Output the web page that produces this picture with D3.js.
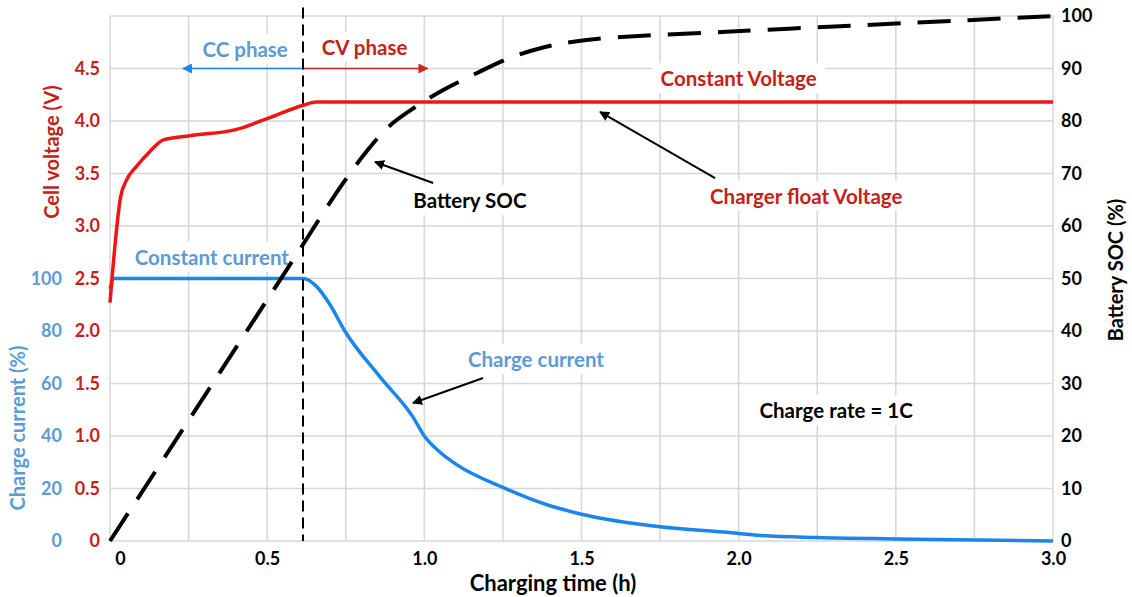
<!DOCTYPE html>
<html>
<head>
<meta charset="utf-8">
<script src="https://cdn.jsdelivr.net/npm/d3@7"></script>
<style>
  body { margin: 0; background: #fff; }
  svg { display: block; font-family: Lato, "Open Sans", sans-serif; font-weight: 700; }
</style>
</head>
<body>
<div id="chart"></div>
<script>
// values
var voltTime = [0, 0.034, 0.053, 0.085, 0.127, 0.17, 0.254, 0.403, 0.498, 0.615, 0.657, 3.0];
var voltage  = [2.27, 3.28, 3.44, 3.57, 3.71, 3.82, 3.86, 3.92, 4.02, 4.15, 4.18, 4.18];

var currTime = [0, 0.012, 0.3, 0.614, 0.657, 0.70, 0.747, 0.859, 0.964, 1.0, 1.05, 1.104, 1.25, 1.39, 1.5, 1.75, 1.97, 2.07, 2.25, 2.5, 3.0];
var current  = [96, 100, 100, 100, 97, 90, 80, 62.5, 47.2, 40, 33.8, 29.0, 20.4, 13.8, 10.2, 5.4, 3.2, 2.1, 1.3, 0.8, 0];

var socTime = [0, 0.61, 0.673, 0.742, 0.816, 0.89, 0.975, 1.06, 1.166, 1.272, 1.378, 1.474, 1.58, 1.96, 2.41, 2.73, 3.0];
var soc     = [0, 56.1, 62.0, 68.2, 74.2, 79.1, 82.8, 85.9, 89.1, 92.0, 94.0, 95.1, 95.8, 97, 98.3, 99.2, 100];

var timeTicks = [0, 0.5, 1.0, 1.5, 2.0, 2.5, 3.0];
var voltTicks = [0, 0.5, 1.0, 1.5, 2.0, 2.5, 3.0, 3.5, 4.0, 4.5];
var currTicks = [0, 20, 40, 60, 80, 100];
var socTicks  = [0, 10, 20, 30, 40, 50, 60, 70, 80, 90, 100];
var cvStart = 0.614;

var W = 1132, H = 597;
var RED = '#f01515', DARKRED = '#c42119', BLUE = '#1a86ec', LIGHTBLUE = '#5b9bd5';

var x  = d3.scaleLinear().domain([0, 3]).range([110, 1053]);
var yV = d3.scaleLinear().domain([0, 5]).range([541, 16]);
var yI = d3.scaleLinear().domain([0, 200]).range([541, 16]);
var yS = d3.scaleLinear().domain([0, 100]).range([541, 16]);

var svg = d3.select('#chart').append('svg').attr('width', W).attr('height', H);

var defs = svg.append('defs');
function marker(id, col){
	defs.append('marker').attr('id', id)
		.attr('viewBox', '0 0 10 10').attr('refX', 9).attr('refY', 5)
		.attr('markerWidth', 10).attr('markerHeight', 10)
		.attr('markerUnits', 'userSpaceOnUse').attr('orient', 'auto')
		.append('path').attr('d', 'M0,0 L10,5 L0,10 Z').attr('fill', col);
}
marker('ahBlack', '#000'); marker('ahBlue', BLUE); marker('ahRed', '#c8281e');

// grid
var grid = svg.append('g').attr('stroke', '#d6d6d6').attr('stroke-width', 1.5);
grid.selectAll('line.v').data(d3.range(0, 3.01, 0.25)).enter().append('line')
	.attr('x1', function(d){return x(d)}).attr('x2', function(d){return x(d)})
	.attr('y1', yV(5)).attr('y2', yV(0));
grid.selectAll('line.h').data(d3.range(0, 5.01, 0.5)).enter().append('line')
	.attr('y1', function(d){return yV(d)}).attr('y2', function(d){return yV(d)})
	.attr('x1', x(0)).attr('x2', x(3));

// axes (labels only, the grid draws the frame)
var axX = svg.append('g').attr('transform', 'translate(0,' + yV(0) + ')')
	.call(d3.axisBottom(x).tickValues(timeTicks).tickSize(0).tickPadding(11)
		.tickFormat(function(d){return d === 0 ? '0' : d3.format('.1f')(d)}));
axX.selectAll('text').filter(function(d){return d === 0}).attr('dx', 10);

var axV = svg.append('g').attr('transform', 'translate(100,0)')
	.call(d3.axisLeft(yV).tickValues(voltTicks).tickSize(0).tickPadding(0)
		.tickFormat(function(d){return d === 0 ? '0' : d3.format('.1f')(d)}));
axV.selectAll('text').attr('fill', DARKRED);

var axI = svg.append('g').attr('transform', 'translate(62,0)')
	.call(d3.axisLeft(yI).tickValues(currTicks).tickSize(0).tickPadding(0));
axI.selectAll('text').attr('fill', LIGHTBLUE);

var axS = svg.append('g').attr('transform', 'translate(1061,0)')
	.call(d3.axisRight(yS).tickValues(socTicks).tickSize(0).tickPadding(0));

[axX, axV, axI, axS].forEach(function(a){
	a.select('.domain').remove();
	a.selectAll('text').attr('font-size', 18).attr('font-family', 'Lato, "Open Sans", sans-serif').attr('font-weight', 700);
});
axX.selectAll('text').attr('fill', '#000');
axS.selectAll('text').attr('fill', '#000');

// axis titles
svg.append('text').attr('x', 553).attr('y', 583).attr('dy', '0.35em')
	.attr('text-anchor', 'middle').attr('font-size', 22).text('Charging time (h)');
svg.append('text').attr('transform', 'translate(52,152) rotate(-90)').attr('dy', '0.35em')
	.attr('text-anchor', 'middle').attr('font-size', 20).attr('fill', DARKRED).text('Cell voltage (V)');
svg.append('text').attr('transform', 'translate(18,428) rotate(-90)').attr('dy', '0.35em')
	.attr('text-anchor', 'middle').attr('font-size', 20).attr('fill', LIGHTBLUE).text('Charge current (%)');
svg.append('text').attr('transform', 'translate(1116,270) rotate(-90)').attr('dy', '0.35em')
	.attr('text-anchor', 'middle').attr('font-size', 20).attr('fill', '#000').text('Battery SOC (%)');

// annotations with white boxes behind them
var notes = [
	{t: 0.43,  v: 4.68, text: 'CC phase',              col: LIGHTBLUE},
	{t: 0.81,  v: 4.70, text: 'CV phase',              col: DARKRED},
	{t: 2.0,   v: 4.40, text: 'Constant Voltage',      col: DARKRED},
	{t: 2.215, v: 3.28, text: 'Charger float Voltage', col: DARKRED},
	{t: 1.145, v: 3.24, text: 'Battery SOC',           col: '#000'},
	{t: 0.324, v: 2.70, text: 'Constant current',      col: LIGHTBLUE},
	{t: 1.355, v: 1.724, text: 'Charge current',       col: LIGHTBLUE},
	{t: 2.31,  v: 1.238, text: 'Charge rate = 1C',     col: '#000'}
];
var noteG = svg.append('g');
notes.forEach(function(n){
	var g = noteG.append('g');
	var r = g.append('rect').attr('fill', '#fff');
	var tx = g.append('text').attr('x', x(n.t)).attr('y', yV(n.v)).attr('dy', '0.35em')
		.attr('text-anchor', 'middle').attr('font-size', 20.5).attr('fill', n.col).text(n.text);
	var b = tx.node().getBBox();
	r.attr('x', b.x - 8).attr('y', b.y - 3).attr('width', b.width + 16).attr('height', b.height + 6);
});

// phase arrows
svg.append('line').attr('x1', x(cvStart)).attr('x2', x(0.232)).attr('y1', yV(4.5)).attr('y2', yV(4.5))
	.attr('stroke', BLUE).attr('stroke-width', 1.5).attr('marker-end', 'url(#ahBlue)');
svg.append('line').attr('x1', x(cvStart)).attr('x2', x(1.01)).attr('y1', yV(4.5)).attr('y2', yV(4.5))
	.attr('stroke', '#c8281e').attr('stroke-width', 1.5).attr('marker-end', 'url(#ahRed)');

// curves
var lineV = d3.line().x(function(d){return x(d[0])}).y(function(d){return yV(d[1])}).curve(d3.curveMonotoneX);
var lineI = d3.line().x(function(d){return x(d[0])}).y(function(d){return yI(d[1])}).curve(d3.curveMonotoneX);
var lineS = d3.line().x(function(d){return x(d[0])}).y(function(d){return yS(d[1])}).curve(d3.curveCatmullRom.alpha(0.5));

svg.append('path').datum(d3.zip(currTime, current)).attr('d', lineI)
	.attr('fill', 'none').attr('stroke', BLUE).attr('stroke-width', 3.5);
svg.append('path').datum(d3.zip(voltTime, voltage)).attr('d', lineV)
	.attr('fill', 'none').attr('stroke', RED).attr('stroke-width', 3.5);

// CC / CV boundary
svg.append('line').attr('x1', x(cvStart)).attr('x2', x(cvStart)).attr('y1', yV(5.08)).attr('y2', yV(0))
	.attr('stroke', '#000').attr('stroke-width', 2).attr('stroke-dasharray', '11,6');

svg.append('path').datum(d3.zip(socTime, soc)).attr('d', lineS)
	.attr('fill', 'none').attr('stroke', '#000').attr('stroke-width', 4).attr('stroke-dasharray', '33,17');

// pointer arrows
var pointers = [
	[1.925, 3.457, 1.559, 4.086],
	[1.028, 3.41, 0.843, 3.61],
	[1.187, 1.552, 0.964, 1.314]
];
svg.selectAll('line.ptr').data(pointers).enter().append('line')
	.attr('x1', function(d){return x(d[0])}).attr('y1', function(d){return yV(d[1])})
	.attr('x2', function(d){return x(d[2])}).attr('y2', function(d){return yV(d[3])})
	.attr('stroke', '#000').attr('stroke-width', 2).attr('marker-end', 'url(#ahBlack)');
</script>
</body>
</html>
